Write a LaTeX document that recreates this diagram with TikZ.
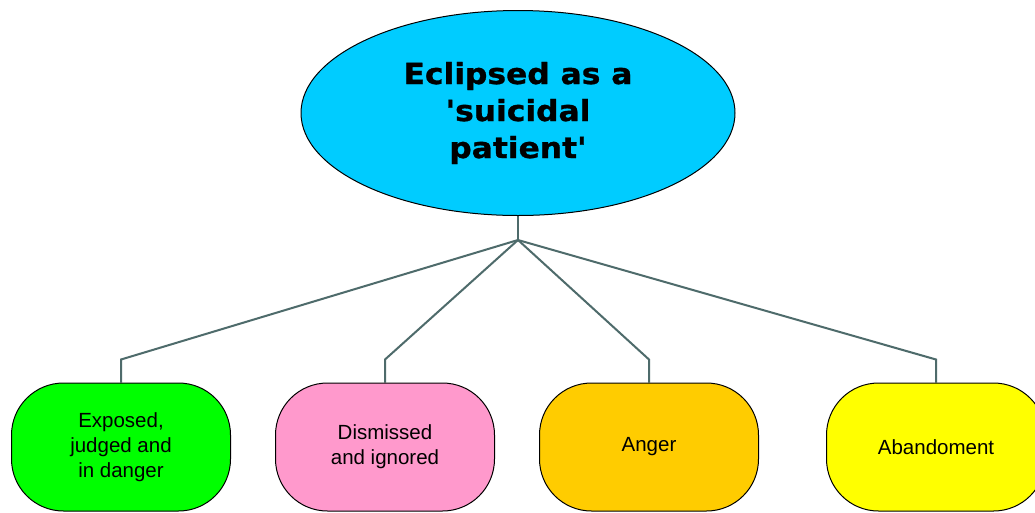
\documentclass[tikz,border=0pt]{standalone}
\usepackage{fontspec}
\usetikzlibrary{shapes.geometric,backgrounds}
\newfontfamily\titlefont[FakeStretch=1.08,FakeBold=1]{DejaVu Sans Bold}
\newfontfamily\leaffont{Liberation Sans}
\definecolor{skyfill}{HTML}{00CCFF}
\definecolor{greenfill}{HTML}{00FF00}
\definecolor{pinkfill}{HTML}{FF99CC}
\definecolor{orangefill}{HTML}{FFCC00}
\definecolor{yellowfill}{HTML}{FFFF00}
\definecolor{linkcol}{HTML}{4E6B6B}
\tikzset{
  topic/.style={ellipse, draw=black, line width=1pt, fill=skyfill,
    minimum width=434pt, minimum height=205pt, inner sep=0pt,
    align=center, font=\titlefont\fontsize{29}{37}\selectfont},
  leaf/.style={rectangle, rounded corners=52pt, draw=black, line width=1pt,
    minimum width=219pt, minimum height=128pt, inner sep=0pt,
    align=center, font=\leaffont\fontsize{20.5}{25}\selectfont},
  link/.style={draw=linkcol, line width=2pt}
}
\begin{document}
\begin{tikzpicture}[x=1pt,y=-1pt]
\useasboundingbox (0,0) rectangle (1035,512);
\clip (0,0) rectangle (1035,512);

% central topic and the four leaves
\node[topic] (top) at (518,113) {Eclipsed as a\\'suicidal\\patient'};
\node[leaf, fill=greenfill]  (b1) at (121,447) {Exposed,\\judged and\\in danger};
\node[leaf, fill=pinkfill]   (b2) at (385,447) {Dismissed\\and ignored};
\node[leaf, fill=orangefill] (b3) at (649,447) {Anger};
\node[leaf, fill=yellowfill] (b4) at (936,447) {Abandoment};

% connectors sit behind the shapes
\begin{scope}[on background layer]
  \fill[white] (0,0) rectangle (1035,512);
  \coordinate (hub) at (518,240);
  \draw[link] (top.south) -- (hub);
  \foreach \b in {b1,b2,b3,b4}{
    \draw[link] (hub) -- ([yshift=23pt]\b.north) -- (\b.north);
  }
\end{scope}
\end{tikzpicture}
\end{document}
